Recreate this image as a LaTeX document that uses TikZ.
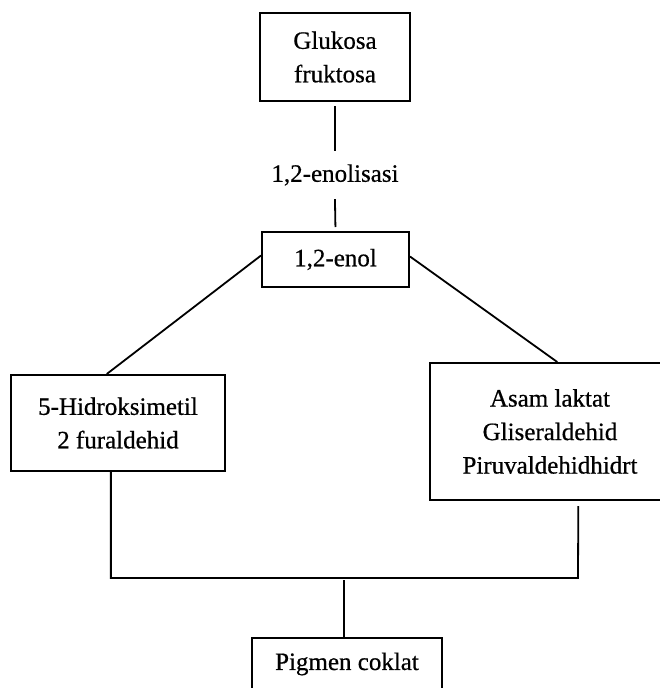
\documentclass[tikz,border=0pt]{standalone}
\usepackage{fontspec}
\setmainfont{Liberation Serif}[FakeBold=0.6]
\usetikzlibrary{calc}
\begin{document}
\begin{tikzpicture}[x=1pt,y=-1pt,
  box/.style={draw, line width=2pt, inner sep=0pt, align=center, font=\fontsize{25}{33.5}\selectfont},
  lbl/.style={inner sep=0pt, font=\fontsize{25}{33.5}\selectfont},
  conn/.style={line width=1.8pt}]
\useasboundingbox (0,0) rectangle (659,688);
\fill[white] (0,0) rectangle (659,688);
\node[box, minimum width=150pt, minimum height=88pt] (g) at (335,57) {Glukosa\\fruktosa};
\node[lbl, minimum height=54pt] (l) at (335,175) {1,2-enolisasi};
\node[box, minimum width=147pt, minimum height=55pt] (e) at (335.5,259.5) {1,2-enol};
\node[box, minimum width=214pt, minimum height=96pt] (h) at (118,423) {5-Hidroksimetil\\2 furaldehid};
\node[box, minimum width=240pt, minimum height=137pt] (a) at (550,431.5) {Asam laktat\\Gliseraldehid\\Piruvaldehidhidrt};
\node[box, minimum width=190pt, minimum height=52pt] (p) at (347,664) {Pigmen coklat};
\coordinate (k) at (578,578);
\coordinate (m) at (344,580);
\draw[conn, shorten <=4pt, shorten >=-3pt] (g.south) -- (l.north);
\draw[conn, shorten <=-3pt, shorten >=4pt] (l.south) -- (e.north);
\draw[conn] ([yshift=4pt]e.west) -- ($(h.north west)!0.448!(h.north east)$);
\draw[conn] ([yshift=3pt]e.east) -- ($(a.north west)!0.53!(a.north east)$);
\draw[conn, shorten >=5pt] ($(h.south west)!0.467!(h.south east)$) |- (k) -- ($(a.south west)!0.617!(a.south east)$);
\draw[conn] (m) -- (m |- p.north);
\end{tikzpicture}
\end{document}
